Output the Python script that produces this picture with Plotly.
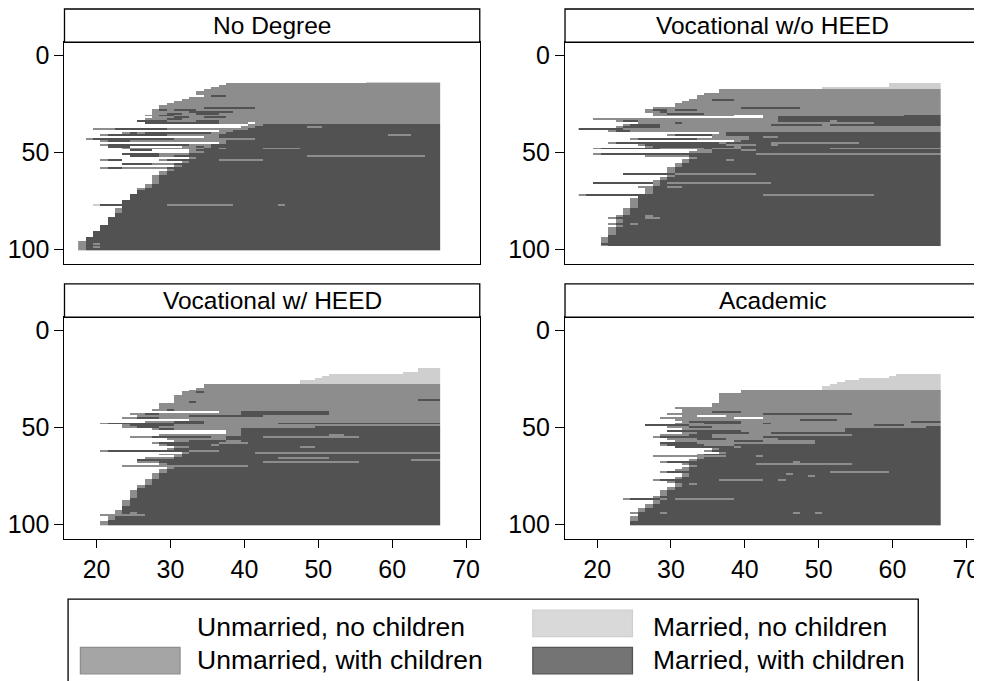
import plotly.graph_objects as go

# ---------------- data ----------------
# Each sequence row: "age:state" change points; state 0 (unmarried, no children) before the first change.
# states: 0 Unmarried, no children | 1 Married, no children | 2 Unmarried, with children | 3 Married, with children
AGES = list(range(18, 67))
N_ROWS = 100

panel_titles = ["No Degree", "Vocational w/o HEED", "Vocational w/ HEED", "Academic"]
state_labels = ["Unmarried, no children", "Married, no children",
                "Unmarried, with children", "Married, with children"]
x_ticks = [20, 30, 40, 50, 60, 70]
y_ticks = [0, 50, 100]

p1_start = 14
p1_rows = [
    "57:1", "38:2", "37:2", "36:2", "35:2", "34:2", "34:2", "35:2 36:3 38:2",
    "33:2", "32:2", "31:2", "30:2", "29:2", "29:2 35:3 42:2",
    "28:2 29:3 30:2 31:3 34:2", "28:2 33:3 39:2", "28:2 30:3 32:2 34:3 37:2",
    "27:2 29:3 31:2", "28:2 31:3 33:2 35:3 38:2", "27:2 30:3 32:2",
    "26:3 30:2 34:3 37:2", "27:3 37:2 41:0 42:2",
    "41:2 43:3", "40:2 42:3 49:2 51:3", "20:2 23:3 30:2 41:3", "37:2 39:3",
    "24:2 25:3 26:2 27:3 36:2 38:3", "21:2 22:3 30:2 37:3 60:2 63:3", "35:2 37:3",
    "19:2 20:3 31:2 42:3", "21:2 22:3 25:2 33:2 38:3", "37:2 38:3",
    "21:2 22:3 33:2 36:3", "22:3 25:0 32:2 34:3 35:2 36:3",
    "24:2 33:2 35:3 37:2 38:3 43:2 48:3", "25:3 28:0 33:2 34:3", "33:2 35:3",
    "24:3 29:2 33:3", "25:3 29:2 31:3 49:2 65:3", "33:2 34:3",
    "21:2 22:3 24:0 29:2 30:3 37:2 43:3", "32:2 33:3", "24:3 28:2 31:3",
    "31:2 32:3", "21:2 22:3 24:2 30:3", "30:2 31:3", "29:2 30:3", "29:2 30:3",
    "28:2 29:3", "28:2 29:3", "28:2 29:3", "28:2 29:3", "28:2 29:3",
    "27:2 28:3", "27:2 28:3", "26:2 27:3", "26:3", "26:3", "25:3", "25:3",
    "25:3", "24:3", "24:3", "20:1 21:3 30:2 39:3 45:2 46:3", "24:3",
    "23:2 24:3", "23:2 24:3", "23:2 24:3", "23:3", "23:3", "22:3", "22:3",
    "22:3", "22:3", "21:3", "21:3", "21:3", "20:3", "20:3", "20:3", "19:3",
    "19:3", "18:2 19:3", "18:2 19:3 20:2 21:3", "18:2 19:3",
    "18:2 19:3 20:2 21:3", "18:2 19:3",
]

p2_start = 15
p2_rows = [
    "60:1", "60:1", "51:1", "37:2", "37:2", "35:2", "34:2", "34:2",
    "33:2 36:3 39:2", "32:2", "31:2", "31:2", "28:2 40:3 48:2",
    "27:2 28:3 30:2 31:3 34:2", "27:2 29:3 30:2", "28:2 30:3 35:2",
    "28:2 39:0 43:2 62:3", "43:2 45:3 62:3", "20:2 45:3",
    "23:2 24:3 26:2 45:3 52:2 53:3", "26:2 31:3 32:2 58:3",
    "24:2 25:3 29:2 44:3 51:2 52:3", "23:2 24:3 29:2", "18:3 24:2",
    "22:2 23:3 25:2", "37:2 38:3", "30:2 31:3 36:2 38:3",
    "36:2 41:3 43:2 45:3", "25:2 26:3 34:2 41:3", "39:2 40:3",
    "22:2 23:3 37:2 38:3 44:2 56:3", "26:2 27:3 38:2 42:3 44:2 45:3",
    "27:2 28:3 39:2 40:3", "20:2 21:3 29:2 35:3 36:2 40:3 52:2",
    "34:2 36:3 40:2 42:3", "33:2 36:3", "20:2 21:3 33:3 42:2",
    "27:2 33:3", "33:2 34:3", "32:2 33:3 38:2 39:3", "32:2 33:3",
    "31:2 32:3", "31:2 32:3", "30:2 31:3", "30:2 31:3", "30:2 31:3",
    "24:3 31:2 42:3", "30:2 31:3", "29:2 30:3", "29:2 30:3", "28:2 29:3",
    "20:3 28:2 29:3 30:2 44:3", "28:2 29:3", "26:2 28:3 30:2 32:3",
    "27:2 28:3", "27:2 28:3", "27:2 28:3", "18:2 19:3 43:2 58:3", "26:3",
    "25:2 26:3", "25:2 26:3", "25:2 26:3", "25:2 26:3", "25:2 26:3",
    "24:2 25:3", "24:2 25:3", "24:2 25:3", "24:2 25:3",
    "23:2 24:3 27:2 28:3", "22:2 23:3 27:2 29:3", "23:2 24:3", "23:2 24:3",
    "22:2 23:3 25:2 26:3", "23:2 24:3", "22:2 23:3", "22:2 23:3",
    "22:2 23:3", "22:2 23:3", "22:3", "21:2 22:3", "21:2 22:3", "21:2 22:3",
    "21:3", "21:2 22:3",
]

p3_start = 20
p3_rows = [
    "64:1", "64:1", "62:1", "52:1", "51:1", "50:1", "48:1", "48:1",
    "35:2", "35:2", "34:2", "33:2", "32:2 34:3 35:2", "32:2", "31:2", "31:2",
    "31:2 64:3", "31:2 33:3 34:2", "29:2", "29:2", "29:2", "28:2 30:3 31:2",
    "37:2 40:3 52:2", "25:2 27:3 29:2 40:3 52:2", "26:2 33:3 43:2",
    "24:2 26:3 29:2", "33:2", "27:2 31:3 35:2",
    "21:2 22:3 35:2 45:3", "24:2 25:3 31:2", "24:2 26:3 29:2 50:3",
    "28:2 29:3 31:2 40:3", "38:2 40:3", "38:2 40:3", "29:2 40:3 52:2 54:3",
    "25:2 28:3 36:2 38:3 43:2 56:3", "30:2 38:3", "31:2 33:3 38:2 40:3",
    "28:2 29:3 37:2 41:3", "29:2 30:3 36:2 37:3", "31:2 33:3 48:2 50:3",
    "30:2 31:3", "21:2 22:3 33:2 37:3", "32:2 33:3 42:2", "29:2 32:3",
    "31:2 32:3", "27:2 31:3 45:2 52:3", "26:3 63:2", "26:2 29:3 43:2 56:3",
    "29:2 30:3", "24:2 41:3", "30:2 31:3", "29:2 30:3", "29:2 30:3",
    "28:2 29:3", "28:2 29:3", "28:2 29:3", "27:2 28:3", "27:2 28:3",
    "27:2 28:3", "26:2 27:3", "26:2 27:3", "26:3", "25:2 26:3", "25:2 26:3",
    "25:2 26:3", "25:2 26:3", "25:3", "24:2 25:3", "24:2 25:3", "24:2 25:3",
    "24:3", "24:3", "23:2 24:3", "23:2 24:3 25:2 26:3", "21:2 27:3",
    "22:2 23:3", "22:2 23:3", "22:3", "21:2 22:3", "21:2 22:3",
]

p4_start = 23
p4_rows = [
    "61:1", "60:1", "56:1", "54:1", "53:1", "52:1", "51:1", "51:1",
    "40:2", "40:2", "37:2", "37:2", "37:2", "37:2", "37:2", "36:2", "36:2",
    "31:2", "32:2", "32:2 36:3 40:2", "30:2 43:3 55:2", "32:2 34:0 38:2",
    "29:2 39:0 43:2", "31:2 48:3 53:2", "32:2 33:3 40:2 63:3",
    "31:2 35:3 40:2 43:3 44:2", "27:3 33:2 58:3 62:2", "30:2 33:3 36:2 65:3",
    "32:2 54:3", "30:3 40:2 54:3", "32:2 34:3 41:2 44:3",
    "29:2 33:3 36:2 55:3", "28:2 29:3 36:2 43:3", "30:2 34:3 38:2 45:3",
    "31:2 39:3 43:2 50:3", "29:3 34:2 50:3", "29:2 30:3 35:2 39:3",
    "31:3 39:2 40:3", "36:2 37:3", "35:2 36:3", "37:2 38:3", "34:2 35:3",
    "28:2 38:3 42:2 43:3", "34:2 35:3", "33:2 34:3", "29:2 30:3 47:2 48:3",
    "32:2 33:3 42:2 55:3", "33:2 34:3", "32:2 33:3", "31:2 33:3",
    "29:2 30:3 52:2 60:3", "32:2 33:3 46:2 47:3", "32:2 33:3 49:2 50:3",
    "31:2 32:3", "28:2 29:3 37:2 43:3 45:2 46:3", "30:2 31:3",
    "31:2 32:3 33:2 34:3", "31:2 32:3", "30:2 31:3", "30:2 31:3",
    "29:2 30:3", "29:2 30:3", "29:2 30:3", "28:2 29:3",
    "24:2 25:3 29:2 30:3 31:2 39:3", "28:2 29:3", "28:2 29:3", "27:2 28:3",
    "27:2 28:3", "26:2 27:3", "26:2 27:3",
    "25:2 26:3 29:2 30:3 47:2 48:3 50:2 51:3", "26:3", "25:2 26:3",
    "25:2 26:3", "25:2 26:3", "25:3", "25:3",
]

panels = [(p1_start, p1_rows), (p2_start, p2_rows), (p3_start, p3_rows), (p4_start, p4_rows)]

# ---------------- styling ----------------
FONT = "Liberation Sans, Arial, Helvetica, sans-serif"
state_colors = ["#ffffff", "#cfcfcf", "#8d8d8d", "#525252"]
legend_fill = ["#ffffff", "#d9d9d9", "#a5a5a5", "#747474"]
legend_line = ["#ffffff", "#cfcfcf", "#8e8e8e", "#535353"]

# the page places the figure 8 px in from the top-left corner of the window
OFF = 8
W, H = 982 - OFF, 681 - OFF
col_x = [(60.7, 477.7), (563.3, 980.0)]
row_y = [(41.3, 263.0), (316.7, 538.5)]
hdr_y = [(8.0, 41.3), (283.3, 316.7)]


def px(x):
    return (x - OFF) / W


def py(y):
    return 1 - (y - OFF) / H


def build_matrix(start, rows):
    z = [[0] * len(AGES) for _ in range(N_ROWS)]
    for i, spec in enumerate(rows):
        r = start + i
        if r > N_ROWS:
            break
        changes = [tuple(int(v) for v in tok.split(":")) for tok in spec.split()]
        state = 0
        for j, a in enumerate(AGES):
            for ca, cs in changes:
                if a == ca:
                    state = cs
            z[r - 1][j] = state
    return z


colorscale = []
for s, c in enumerate(state_colors):
    colorscale.append([s / 4, c])
    colorscale.append([(s + 1) / 4, c])

fig = go.Figure()
shapes = []
annotations = []

for k, (start, rows) in enumerate(panels):
    ci, ri = k % 2, k // 2
    ax = "" if k == 0 else str(k + 1)
    z = build_matrix(start, rows)
    fig.add_trace(go.Heatmap(
        z=z, x=AGES, y=list(range(1, N_ROWS + 1)),
        colorscale=colorscale, zmin=-0.5, zmax=3.5, showscale=False,
        xaxis="x" + ax, yaxis="y" + ax, hoverinfo="skip",
    ))
    x0, x1 = col_x[ci]
    y0, y1 = row_y[ri]
    bottom = ri == 1
    fig.layout["xaxis" + ax] = dict(
        domain=[px(x0), px(x1)], range=[15.65, 71.85], anchor="y" + ax,
        showgrid=False, zeroline=False, showline=True, mirror=True,
        linecolor="black", linewidth=1.3,
        tickmode="array", tickvals=x_ticks if bottom else [],
        ticks="outside" if bottom else "", ticklen=8, tickcolor="black",
        showticklabels=bottom,
        tickfont=dict(family=FONT, size=25, color="black"),
    )
    fig.layout["yaxis" + ax] = dict(
        domain=[py(y1), py(y0)], range=[107.2, -6.75], anchor="x" + ax,
        showgrid=False, zeroline=False, showline=True, mirror=True,
        linecolor="black", linewidth=1.3,
        tickmode="array", tickvals=y_ticks, ticks="outside", ticklen=9,
        tickcolor="black", tickfont=dict(family=FONT, size=25, color="black"),
    )
    hy0, hy1 = hdr_y[ri]
    shapes.append(dict(type="rect", xref="paper", yref="paper",
                       x0=px(x0), x1=px(x1), y0=py(hy1), y1=py(hy0),
                       line=dict(color="black", width=1.3), fillcolor="white"))
    annotations.append(dict(xref="paper", yref="paper", x=px((x0 + x1) / 2),
                            y=py((hy0 + hy1) / 2), text=panel_titles[k],
                            showarrow=False, xanchor="center", yanchor="middle",
                            font=dict(family=FONT, size=24.5, color="black")))

# ---------------- legend box ----------------
shapes.append(dict(type="rect", xref="paper", yref="paper",
                   x0=px(64.3), x1=px(918), y0=py(700), y1=py(599),
                   line=dict(color="black", width=1.3), fillcolor="white"))
leg_swatch = [(76.7, 610), (531, 610), (76.7, 647.3), (531, 647.3)]
leg_text = [(191.7, 626.7), (650, 626.7), (191.7, 660.3), (650, 660.3)]
leg_order = [0, 1, 2, 3]
for (sx, sy), (tx, ty), s in zip(leg_swatch, leg_text, leg_order):
    if s != 0:
        shapes.append(dict(type="rect", xref="paper", yref="paper",
                           x0=px(sx), x1=px(sx + 100), y0=py(sy + 26.5), y1=py(sy),
                           line=dict(color=legend_line[s], width=1.3),
                           fillcolor=legend_fill[s]))
    annotations.append(dict(xref="paper", yref="paper", x=px(tx),
                            y=py(ty), text=state_labels[s], showarrow=False,
                            xanchor="left", yanchor="middle",
                            font=dict(family=FONT, size=26.5, color="black")))

fig.update_layout(
    width=W, height=H, margin=dict(l=0, r=0, t=0, b=0),
    paper_bgcolor="white", plot_bgcolor="white",
    showlegend=False, shapes=shapes, annotations=annotations,
)

fig.write_html("out.html")
